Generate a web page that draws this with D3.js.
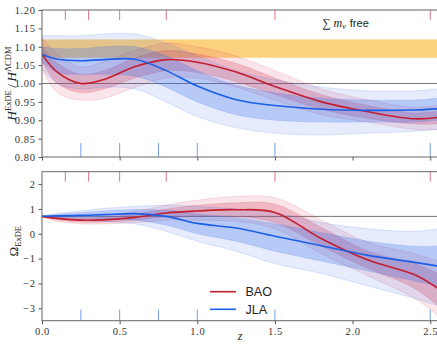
<!DOCTYPE html>
<html>
<head>
<meta charset="utf-8">
<script src="https://cdn.jsdelivr.net/npm/d3@7"></script>
<style>
  body { margin: 0; background: #fff; }
  .tick text { font-family: "Liberation Serif", serif; font-size: 10.5px; fill: #333; letter-spacing: 0.6px; }
  .tick line { stroke: #555; }
</style>
</head>
<body>
<svg id="chart" width="437" height="344"></svg>
<script>
// redshift grid the curves were read at
const zGrid = [0, 0.1, 0.25, 0.4, 0.6, 0.8, 1.0, 1.25, 1.5, 1.8, 2.1, 2.4, 2.55];

// H^ExDE / H^LCDM  -- BAO (red)
const hBaoMean = [1.08, 1.03, 1.0, 1.011, 1.046, 1.065, 1.058, 1.031, 0.992, 0.95, 0.923, 0.904, 0.908];
const hBaoLo2  = [1.04, 0.975, 0.955, 0.96, 0.99, 1.015, 1.015, 0.99, 0.955, 0.915, 0.895, 0.875, 0.875];
const hBaoLo1  = [1.06, 1.0, 0.975, 0.985, 1.015, 1.035, 1.03, 1.005, 0.97, 0.93, 0.905, 0.89, 0.89];
const hBaoHi1  = [1.10, 1.055, 1.025, 1.035, 1.07, 1.09, 1.08, 1.055, 1.015, 0.97, 0.94, 0.92, 0.925];
const hBaoHi2  = [1.125, 1.08, 1.045, 1.06, 1.09, 1.11, 1.10, 1.075, 1.035, 0.985, 0.955, 0.935, 0.94];
// H^ExDE / H^LCDM  -- JLA (blue)
const hJlaMean = [1.079, 1.066, 1.062, 1.065, 1.066, 1.035, 0.993, 0.956, 0.94, 0.93, 0.927, 0.928, 0.931];
const hJlaLo2  = [1.04, 1.0, 0.985, 0.99, 0.985, 0.95, 0.91, 0.88, 0.865, 0.86, 0.865, 0.87, 0.875];
const hJlaLo1  = [1.06, 1.03, 1.025, 1.025, 1.02, 0.99, 0.95, 0.915, 0.9, 0.895, 0.895, 0.895, 0.9];
const hJlaHi1  = [1.10, 1.095, 1.095, 1.10, 1.10, 1.075, 1.035, 0.995, 0.975, 0.96, 0.955, 0.955, 0.96];
const hJlaHi2  = [1.13, 1.13, 1.13, 1.135, 1.135, 1.11, 1.075, 1.035, 1.01, 0.99, 0.98, 0.98, 0.985];

// Omega_ExDE -- BAO (red)
const oBaoMean = [0.70, 0.62, 0.55, 0.56, 0.66, 0.84, 0.92, 0.97, 0.86, -0.2, -1.06, -1.65, -2.2];
const oBaoLo2  = [0.68, 0.5, 0.4, 0.4, 0.45, 0.55, 0.55, 0.5, 0.2, -0.8, -1.7, -2.6, -3.3];
const oBaoLo1  = [0.69, 0.56, 0.47, 0.47, 0.55, 0.68, 0.7, 0.7, 0.45, -0.5, -1.4, -2.2, -2.9];
const oBaoHi1  = [0.71, 0.68, 0.63, 0.66, 0.8, 1.0, 1.15, 1.25, 1.2, 0.25, -0.7, -1.2, -1.6];
const oBaoHi2  = [0.72, 0.7, 0.68, 0.72, 0.9, 1.15, 1.35, 1.5, 1.45, 0.55, -0.35, -0.8, -1.1];
// Omega_ExDE -- JLA (blue)
const oJlaMean = [0.70, 0.72, 0.74, 0.77, 0.81, 0.70, 0.42, 0.23, -0.1, -0.48, -0.87, -1.15, -1.3];
const oJlaLo2  = [0.68, 0.6, 0.55, 0.5, 0.4, 0.1, -0.3, -0.7, -1.2, -1.6, -2.1, -2.6, -2.9];
const oJlaLo1  = [0.69, 0.65, 0.63, 0.6, 0.55, 0.35, 0.0, -0.3, -0.7, -1.1, -1.5, -1.9, -2.1];
const oJlaHi1  = [0.71, 0.78, 0.85, 0.92, 0.98, 0.95, 0.8, 0.65, 0.4, 0.05, -0.3, -0.5, -0.5];
const oJlaHi2  = [0.72, 0.82, 0.92, 1.02, 1.1, 1.15, 1.1, 1.0, 0.85, 0.45, 0.2, 0.1, 0.2];

// redshifts of the data points marked along the frames
const baoZ = [0.15, 0.3, 0.5, 0.8, 1.5, 2.5];
const jlaZ = [0.25, 0.5, 0.75, 1.0, 1.5, 2.5];

const xTicks = [0, 0.5, 1.0, 1.5, 2.0, 2.5];
const hTicks = [0.80, 0.85, 0.90, 0.95, 1.00, 1.05, 1.10, 1.15, 1.20];
const oTicks = [-3, -2, -1, 0, 1, 2];
const mnuBand = [1.07, 1.12];   // sum m_nu free prior
const hRef = 1.0, oRef = 0.7;

const red = "#c41e2e", redFill = "#d8415a";
const blue = "#1a5fe6", blueFill = "#3d6ee8";
const curve = d3.curveCatmullRom.alpha(0.5);

const svg = d3.select("#chart");
const x = d3.scaleLinear().domain([0, 2.55]).range([42, 438]);
const yH = d3.scaleLinear().domain([0.8, 1.2]).range([157, 10]);
const yO = d3.scaleLinear().domain([-3.5, 2.5]).range([320.7, 171.7]);

function drawPanel(y) {
  const g = svg.append("g");
  const clipId = "clip" + Math.round(y.range()[1]);
  svg.append("clipPath").attr("id", clipId).append("rect")
    .attr("x", x.range()[0]).attr("y", y.range()[1])
    .attr("width", x.range()[1] - x.range()[0]).attr("height", y.range()[0] - y.range()[1]);
  const plot = g.append("g").attr("clip-path", "url(#" + clipId + ")");
  return { g, plot };
}

function bands(plot, y, s) {
  const area = (lo, hi) => d3.area().curve(curve)
    .x((d, i) => x(zGrid[i])).y0((d, i) => y(lo[i])).y1((d, i) => y(hi[i]));
  const line = d3.line().curve(curve).x((d, i) => x(zGrid[i])).y(d => y(d));
  plot.append("path").attr("d", area(s.lo2, s.hi2)(zGrid))
    .attr("fill", s.fill).attr("opacity", 0.13);
  plot.append("path").attr("d", area(s.lo1, s.hi1)(zGrid))
    .attr("fill", s.fill).attr("opacity", 0.28);
  [s.lo2, s.lo1, s.hi1, s.hi2].forEach(arr => {
    plot.append("path").attr("d", line(arr)).attr("fill", "none")
      .attr("stroke", s.fill).attr("stroke-width", 0.5).attr("opacity", 0.35);
  });
}

function meanLine(plot, y, vals, color) {
  const line = d3.line().curve(curve).x((d, i) => x(zGrid[i])).y(d => y(d));
  plot.append("path").attr("d", line(vals)).attr("fill", "none")
    .attr("stroke", color).attr("stroke-width", 1.6);
}

function frame(g, y, ticks, fmt, showXLabels) {
  const xa = g.append("g").attr("transform", "translate(0," + y.range()[0] + ")")
    .call(d3.axisBottom(x).tickValues(xTicks).tickSize(3.5).tickPadding(3)
      .tickFormat(showXLabels ? d3.format(".1f") : ""));
  xa.select(".domain").remove();
  const ya = g.append("g").attr("transform", "translate(" + x.range()[0] + ",0)")
    .call(d3.axisLeft(y).tickValues(ticks).tickSize(3.5).tickPadding(3).tickFormat(fmt));
  ya.select(".domain").remove();
  g.append("rect").attr("x", x.range()[0]).attr("y", y.range()[1])
    .attr("width", x.range()[1] - x.range()[0]).attr("height", y.range()[0] - y.range()[1])
    .attr("fill", "none").attr("stroke", "#666").attr("stroke-width", 1);
}

function dataMarks(plot, y, zs, color, atTop, len) {
  plot.selectAll(null).data(zs).enter().append("line")
    .attr("x1", d => x(d)).attr("x2", d => x(d))
    .attr("y1", atTop ? y.range()[1] : y.range()[0])
    .attr("y2", atTop ? y.range()[1] + len : y.range()[0] - len)
    .attr("stroke", color).attr("stroke-width", 1).attr("opacity", 0.6);
}

const bao = (m, l2, l1, h1, h2) => ({ mean: m, lo2: l2, lo1: l1, hi1: h1, hi2: h2, fill: redFill, color: red });
const jla = (m, l2, l1, h1, h2) => ({ mean: m, lo2: l2, lo1: l1, hi1: h1, hi2: h2, fill: blueFill, color: blue });

// ---- top panel
const topPanel = drawPanel(yH);
topPanel.plot.append("rect").attr("x", x(0)).attr("width", x(2.55) - x(0))
  .attr("y", yH(mnuBand[1])).attr("height", yH(mnuBand[0]) - yH(mnuBand[1]))
  .attr("fill", "#fdd27e");
topPanel.plot.append("line").attr("x1", x(0)).attr("x2", x(2.55)).attr("y1", yH(hRef)).attr("y2", yH(hRef))
  .attr("stroke", "#777").attr("stroke-width", 1);
bands(topPanel.plot, yH, bao(hBaoMean, hBaoLo2, hBaoLo1, hBaoHi1, hBaoHi2));
bands(topPanel.plot, yH, jla(hJlaMean, hJlaLo2, hJlaLo1, hJlaHi1, hJlaHi2));
meanLine(topPanel.plot, yH, hBaoMean, red);
meanLine(topPanel.plot, yH, hJlaMean, blue);
dataMarks(topPanel.plot, yH, baoZ, red, true, 10);
dataMarks(topPanel.plot, yH, jlaZ, blue, false, 14);
frame(topPanel.g, yH, hTicks, d3.format(".2f"), false);

// ---- bottom panel
const botPanel = drawPanel(yO);
botPanel.plot.append("line").attr("x1", x(0)).attr("x2", x(2.55)).attr("y1", yO(oRef)).attr("y2", yO(oRef))
  .attr("stroke", "#777").attr("stroke-width", 1);
bands(botPanel.plot, yO, bao(oBaoMean, oBaoLo2, oBaoLo1, oBaoHi1, oBaoHi2));
bands(botPanel.plot, yO, jla(oJlaMean, oJlaLo2, oJlaLo1, oJlaHi1, oJlaHi2));
meanLine(botPanel.plot, yO, oBaoMean, red);
meanLine(botPanel.plot, yO, oJlaMean, blue);
dataMarks(botPanel.plot, yO, baoZ, red, true, 10);
dataMarks(botPanel.plot, yO, jlaZ, blue, false, 11);
frame(botPanel.g, yO, oTicks, d => d3.format("d")(d).replace("-", "\u2212"), true);

// ---- labels
const serif = "'Liberation Serif', serif";
const yl1 = svg.append("text").attr("transform", "translate(16," + yH(1.0) + ") rotate(-90)")
  .attr("text-anchor", "middle").attr("font-family", serif).attr("font-size", 13).attr("fill", "#222");
yl1.append("tspan").attr("font-style", "italic").text("H");
yl1.append("tspan").attr("font-size", 8.5).attr("dy", -5).text("ExDE");
yl1.append("tspan").attr("dy", 5).text("\u2009/\u2009");
yl1.append("tspan").attr("font-style", "italic").text("H");
yl1.append("tspan").attr("font-size", 8.5).attr("dy", -5).text("\u039BCDM");

const yl2 = svg.append("text").attr("transform", "translate(18," + yO(-0.3) + ") rotate(-90)")
  .attr("text-anchor", "middle").attr("font-family", serif).attr("font-size", 13).attr("fill", "#222");
yl2.append("tspan").text("\u03A9");
yl2.append("tspan").attr("font-size", 8.5).attr("dy", 3).text("ExDE");

svg.append("text").attr("x", x(1.275)).attr("y", 340).attr("text-anchor", "middle")
  .attr("font-family", serif).attr("font-style", "italic").attr("font-size", 12).attr("fill", "#222").text("z");

const mt = svg.append("text").attr("x", 322).attr("y", 27).attr("font-family", serif)
  .attr("font-size", 12).attr("fill", "#222");
mt.append("tspan").text("\u2211");
mt.append("tspan").attr("dx", 3).attr("font-style", "italic").text("m");
mt.append("tspan").attr("font-style", "italic").attr("font-size", 8).attr("dy", 2).text("\u03BD");
mt.append("tspan").attr("dy", -2).attr("dx", 4).attr("font-family", "'Liberation Sans', sans-serif")
  .attr("font-size", 11).text("free");

// ---- legend
const legend = svg.append("g");
[["BAO", red, 291.7], ["JLA", blue, 309.3]].forEach(([name, color, ly]) => {
  legend.append("line").attr("x1", 210).attr("x2", 236).attr("y1", ly).attr("y2", ly)
    .attr("stroke", color).attr("stroke-width", 1.6);
  legend.append("text").attr("x", 245.5).attr("y", ly + 4.5)
    .attr("font-family", "'Liberation Sans', sans-serif").attr("font-size", 12.5).attr("fill", "#222").text(name);
});
</script>
</body>
</html>
